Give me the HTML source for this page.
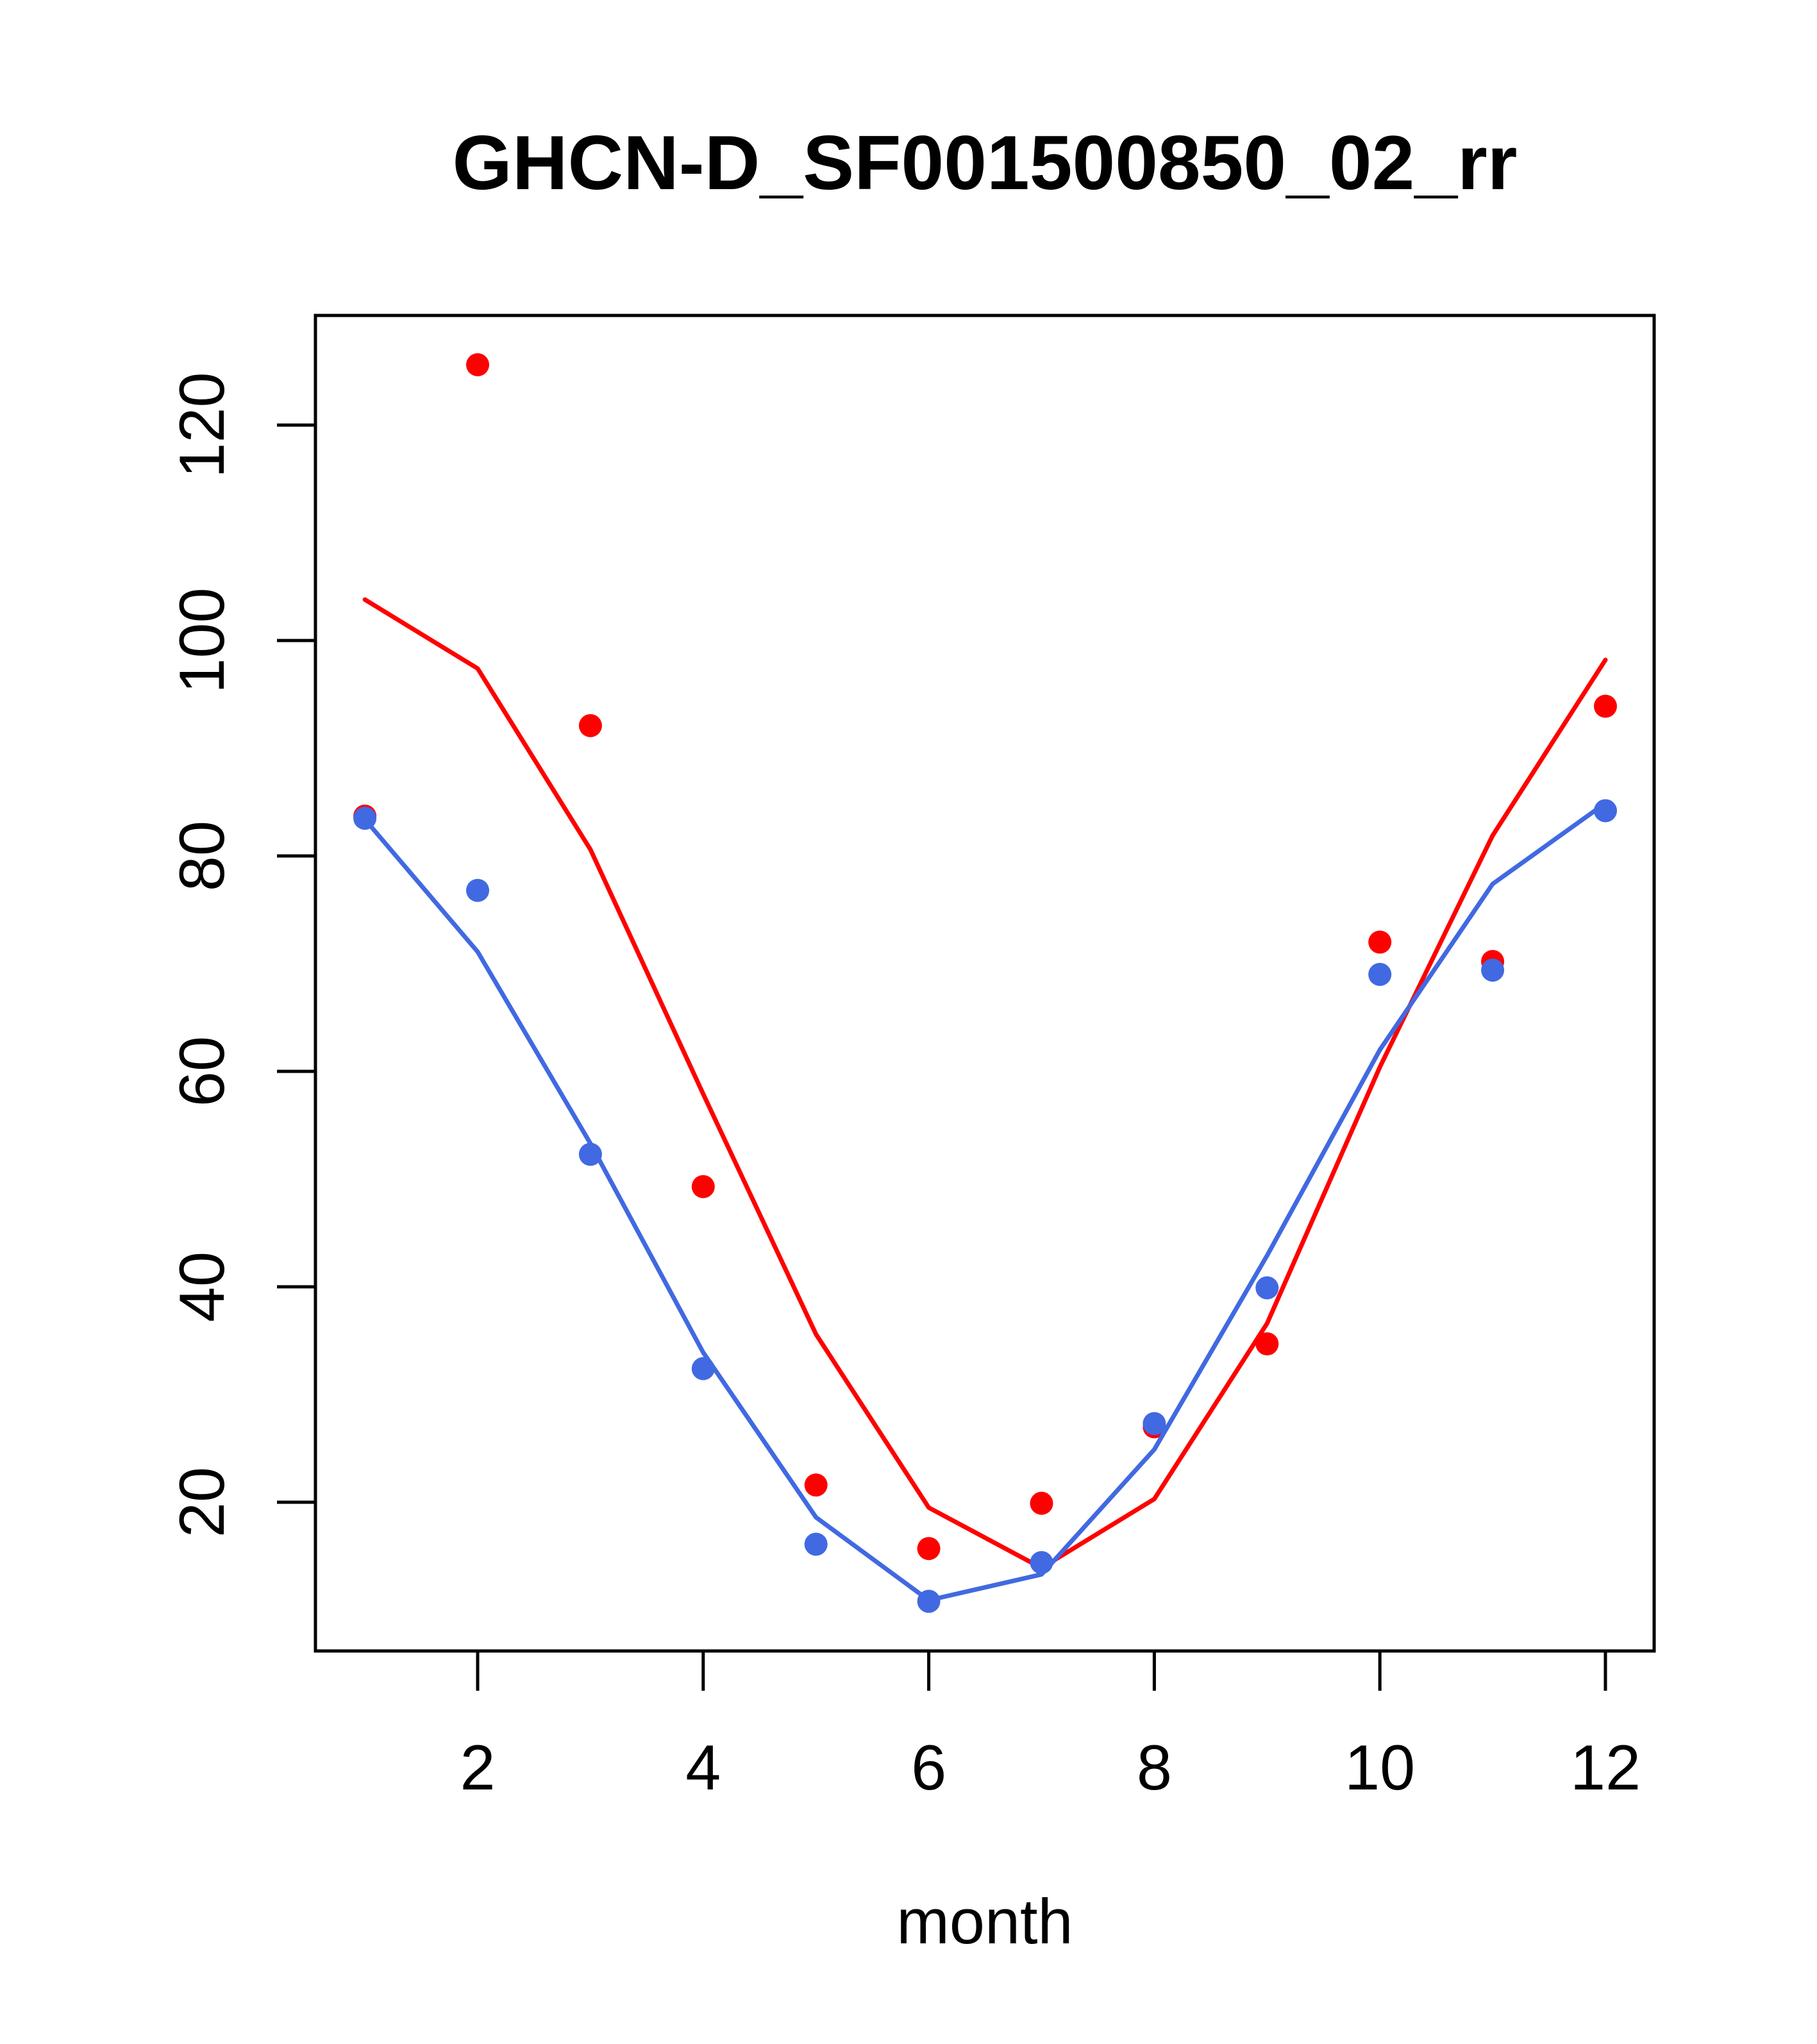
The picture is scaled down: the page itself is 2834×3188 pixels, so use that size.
<!DOCTYPE html>
<html><head><meta charset="utf-8"><style>html,body{margin:0;padding:0;background:#fff}svg{display:block}</style></head>
<body>
<svg id="chart" width="2834" height="3188" viewBox="0 0 2834 3188" xmlns="http://www.w3.org/2000/svg" font-family="'Liberation Sans', sans-serif">
<rect width="2834" height="3188" fill="#fff"/>
<text x="1536" y="295" font-size="120" font-weight="bold" text-anchor="middle">GHCN-D_SF001500850_02_rr</text>
<text x="1536" y="3031" font-size="99" text-anchor="middle">month</text>
<g id="marks"></g>
<rect x="492" y="492" width="2088" height="2083" fill="none" stroke="#000" stroke-width="5"/>
<g id="axes"></g>
</svg>
<script>
const months = [1,2,3,4,5,6,7,8,9,10,11,12];
const redPoints = [83.7,125.6,92.1,49.3,21.6,15.7,19.9,27.0,34.7,72.0,70.2,93.9];
const redLine = [103.8,97.4,80.6,57.9,35.6,19.5,13.9,20.3,36.6,60.4,81.9,98.2];
const bluePoints = [83.5,76.8,52.3,32.4,16.1,10.8,14.4,27.3,39.9,69.0,69.4,84.2];
const blueLine = [83.4,71.1,53.3,33.9,18.6,10.9,13.3,24.9,42.9,62.0,77.4,84.9];
const xTicks = [2,4,6,8,10,12];
const yTicks = [20,40,60,80,100,120];

const NS = 'http://www.w3.org/2000/svg';
function xs(m){ return 745 + (m-2)*175.9; }
function ys(v){ return 663 + (120-v)*16.8; }
const marks = document.getElementById('marks');
const axes = document.getElementById('axes');
function mk(tag, attrs, parent){ const e=document.createElementNS(NS,tag); for(const k in attrs) e.setAttribute(k, attrs[k]); parent.appendChild(e); return e; }

function drawLine(vals, color, name){
  const pts = vals.map((v,i)=>xs(months[i])+','+ys(v)).join(' ');
  const pl = mk('polyline',{points:pts,fill:'none',stroke:color,'stroke-width':7,'stroke-linejoin':'round','stroke-linecap':'round'},marks);
  
  
}
function drawPoints(vals, color, name){
  vals.forEach((v,i)=>{
    const c = mk('circle',{cx:xs(months[i]),cy:ys(v),r:18,fill:color},marks);
    
    
  });
}
drawPoints(redPoints,'#FF0000','red-point');
drawLine(redLine,'#FF0000','red-line');
drawPoints(bluePoints,'#4169E1','blue-point');
drawLine(blueLine,'#4169E1','blue-line');

xTicks.forEach(t=>{
  const l = mk('line',{x1:xs(t),x2:xs(t),y1:2575,y2:2637,stroke:'#000','stroke-width':5},axes);
  
  
  const tx = mk('text',{x:xs(t),y:2791,'font-size':99,'text-anchor':'middle'},axes);
  tx.textContent = t;
  
  
});
yTicks.forEach(t=>{
  const l = mk('line',{x1:432,x2:492,y1:ys(t),y2:ys(t),stroke:'#000','stroke-width':5},axes);
  
  
  const tx = mk('text',{x:0,y:0,'font-size':99,'text-anchor':'middle',transform:'translate(349,'+ys(t)+') rotate(-90)'},axes);
  tx.textContent = t;
  
  
});
</script>
</body></html>
